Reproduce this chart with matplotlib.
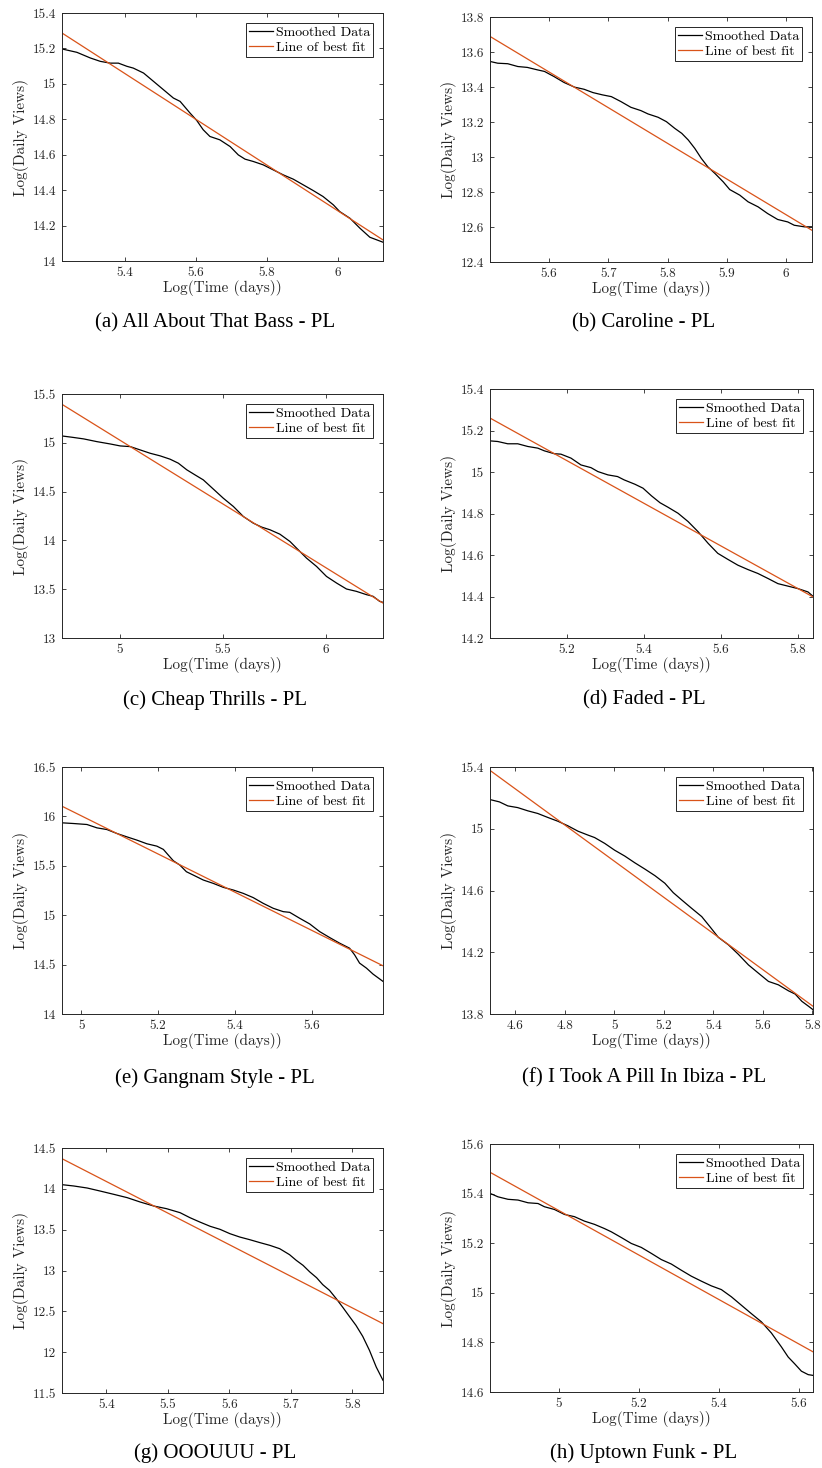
import matplotlib
matplotlib.use("Agg")
import matplotlib.pyplot as plt
from matplotlib.ticker import FuncFormatter

plt.rcParams['font.family'] = ['cmr10', 'DejaVu Serif']
plt.rcParams['axes.formatter.use_mathtext'] = True
plt.rcParams['mathtext.fontset'] = 'cm'

GRAY = '#262626'
ORANGE = '#D95319'

# ---- (a) All About That Bass
x_a = [5.222, 5.264, 5.302, 5.330, 5.358, 5.381, 5.405, 5.423, 5.452, 5.480, 5.508, 5.536,
       5.555, 5.583, 5.602, 5.620, 5.639, 5.667, 5.696, 5.719, 5.738, 5.761, 5.789, 5.817,
       5.846, 5.874, 5.902, 5.930, 5.958, 5.987, 6.005, 6.034, 6.062, 6.090, 6.127]
y_a = [15.197, 15.178, 15.146, 15.127, 15.117, 15.117, 15.099, 15.089, 15.061, 15.014, 14.967, 14.920,
       14.901, 14.835, 14.793, 14.741, 14.703, 14.684, 14.646, 14.599, 14.575, 14.562, 14.543, 14.515,
       14.486, 14.462, 14.430, 14.398, 14.364, 14.317, 14.279, 14.241, 14.185, 14.134, 14.106]
fit_a = [15.287, 14.119]
xt_a = [5.4, 5.6, 5.8, 6]
yt_a = [14, 14.2, 14.4, 14.6, 14.8, 15, 15.2, 15.4]

# ---- (b) Caroline
x_b = [5.500, 5.513, 5.530, 5.547, 5.563, 5.580, 5.592, 5.608, 5.625, 5.643, 5.659, 5.674, 5.690,
       5.705, 5.721, 5.738, 5.755, 5.767, 5.784, 5.798, 5.812, 5.824, 5.835, 5.846, 5.857, 5.868,
       5.880, 5.894, 5.905, 5.922, 5.936, 5.953, 5.969, 5.986, 6.003, 6.014, 6.031, 6.044]
y_b = [13.546, 13.536, 13.533, 13.517, 13.512, 13.498, 13.489, 13.460, 13.426, 13.399, 13.387, 13.368,
       13.355, 13.345, 13.317, 13.284, 13.265, 13.246, 13.227, 13.202, 13.164, 13.135, 13.097, 13.049,
       12.992, 12.944, 12.906, 12.858, 12.814, 12.782, 12.744, 12.715, 12.677, 12.643, 12.629, 12.610,
       12.601, 12.601]
fit_b = [13.689, 12.581]
xt_b = [5.6, 5.7, 5.8, 5.9, 6]
yt_b = [12.4, 12.6, 12.8, 13, 13.2, 13.4, 13.6, 13.8]

# ---- (c) Cheap Thrills
x_c = [4.721, 4.769, 4.826, 4.890, 4.955, 5.003, 5.052, 5.100, 5.148, 5.197, 5.245, 5.285, 5.326,
       5.366, 5.406, 5.455, 5.503, 5.552, 5.600, 5.648, 5.689, 5.729, 5.777, 5.826, 5.866, 5.906,
       5.955, 6.003, 6.052, 6.100, 6.148, 6.197, 6.229, 6.261, 6.277]
y_c = [15.070, 15.057, 15.040, 15.012, 14.988, 14.968, 14.961, 14.927, 14.893, 14.866, 14.832, 14.791,
       14.723, 14.671, 14.620, 14.525, 14.432, 14.347, 14.245, 14.177, 14.136, 14.109, 14.064, 13.989,
       13.904, 13.819, 13.733, 13.631, 13.563, 13.502, 13.478, 13.444, 13.427, 13.375, 13.365]
fit_c = [15.394, 13.358]
xt_c = [5, 5.5, 6]
yt_c = [13, 13.5, 14, 14.5, 15, 15.5]

# ---- (d) Faded
x_d = [5.001, 5.021, 5.047, 5.073, 5.099, 5.125, 5.142, 5.168, 5.185, 5.211, 5.237, 5.263, 5.281,
       5.307, 5.332, 5.349, 5.377, 5.398, 5.420, 5.442, 5.463, 5.489, 5.515, 5.541, 5.567, 5.592,
       5.618, 5.644, 5.670, 5.696, 5.722, 5.748, 5.774, 5.800, 5.826, 5.839]
y_d = [15.150, 15.147, 15.136, 15.136, 15.123, 15.115, 15.102, 15.088, 15.086, 15.067, 15.034, 15.021,
       15.002, 14.986, 14.978, 14.962, 14.941, 14.922, 14.885, 14.852, 14.830, 14.801, 14.761, 14.712,
       14.656, 14.608, 14.579, 14.551, 14.530, 14.511, 14.487, 14.462, 14.450, 14.438, 14.422, 14.401]
fit_d = [15.260, 14.398]
xt_d = [5.2, 5.4, 5.6, 5.8]
yt_d = [14.2, 14.4, 14.6, 14.8, 15, 15.2, 15.4]

# ---- (e) Gangnam Style
x_e = [4.950, 4.980, 5.015, 5.041, 5.067, 5.093, 5.119, 5.145, 5.171, 5.197, 5.214, 5.227, 5.240,
       5.257, 5.274, 5.292, 5.318, 5.344, 5.370, 5.396, 5.422, 5.448, 5.474, 5.500, 5.526, 5.543,
       5.569, 5.595, 5.621, 5.647, 5.673, 5.699, 5.712, 5.725, 5.743, 5.760, 5.786]
y_e = [15.935, 15.928, 15.918, 15.884, 15.867, 15.827, 15.793, 15.760, 15.723, 15.699, 15.666, 15.608,
       15.551, 15.507, 15.440, 15.406, 15.356, 15.322, 15.282, 15.255, 15.221, 15.178, 15.120, 15.070,
       15.036, 15.029, 14.969, 14.912, 14.834, 14.774, 14.717, 14.666, 14.599, 14.515, 14.464, 14.404,
       14.330]
fit_e = [16.103, 14.488]
xt_e = [5, 5.2, 5.4, 5.6]
yt_e = [14, 14.5, 15, 15.5, 16, 16.5]

# ---- (f) I Took A Pill In Ibiza
x_f = [4.497, 4.535, 4.569, 4.609, 4.650, 4.690, 4.731, 4.771, 4.812, 4.853, 4.893, 4.920, 4.961,
       5.001, 5.042, 5.082, 5.123, 5.164, 5.204, 5.238, 5.272, 5.312, 5.353, 5.386, 5.420, 5.461,
       5.501, 5.542, 5.582, 5.623, 5.663, 5.704, 5.731, 5.758, 5.785, 5.803]
y_f = [15.189, 15.174, 15.148, 15.137, 15.116, 15.099, 15.073, 15.049, 15.019, 14.984, 14.959, 14.943,
       14.905, 14.861, 14.823, 14.780, 14.739, 14.696, 14.647, 14.586, 14.539, 14.485, 14.431, 14.366,
       14.297, 14.248, 14.187, 14.118, 14.065, 14.011, 13.989, 13.950, 13.929, 13.882, 13.850, 13.828]
fit_f = [15.378, 13.850]
xt_f = [4.6, 4.8, 5, 5.2, 5.4, 5.6, 5.8]
yt_f = [13.8, 14.2, 14.6, 15, 15.4]

# ---- (g) OOOUUU
x_g = [5.328, 5.347, 5.369, 5.390, 5.412, 5.434, 5.455, 5.477, 5.498, 5.520, 5.536, 5.552, 5.569,
       5.585, 5.601, 5.617, 5.633, 5.650, 5.666, 5.682, 5.698, 5.709, 5.720, 5.731, 5.742, 5.752,
       5.763, 5.774, 5.785, 5.796, 5.806, 5.817, 5.828, 5.839, 5.850]
y_g = [14.051, 14.035, 14.010, 13.973, 13.933, 13.892, 13.839, 13.790, 13.757, 13.708, 13.647, 13.594,
       13.541, 13.504, 13.451, 13.410, 13.378, 13.341, 13.308, 13.267, 13.194, 13.124, 13.063, 12.982,
       12.912, 12.827, 12.757, 12.655, 12.545, 12.431, 12.329, 12.194, 12.022, 11.818, 11.655]
fit_g = [14.369, 12.349]
xt_g = [5.4, 5.5, 5.6, 5.7, 5.8]
yt_g = [11.5, 12, 12.5, 13, 13.5, 14, 14.5]

# ---- (h) Uptown Funk
x_h = [4.828, 4.848, 4.873, 4.898, 4.923, 4.948, 4.964, 4.989, 5.014, 5.039, 5.064, 5.089, 5.114,
       5.131, 5.156, 5.181, 5.206, 5.231, 5.256, 5.281, 5.306, 5.331, 5.356, 5.381, 5.406, 5.431,
       5.456, 5.481, 5.506, 5.531, 5.556, 5.573, 5.589, 5.606, 5.623, 5.635]
y_h = [15.401, 15.387, 15.377, 15.374, 15.363, 15.360, 15.347, 15.336, 15.316, 15.307, 15.289, 15.276,
       15.259, 15.246, 15.223, 15.199, 15.183, 15.159, 15.134, 15.116, 15.091, 15.067, 15.047, 15.028,
       15.013, 14.984, 14.950, 14.916, 14.883, 14.838, 14.782, 14.741, 14.714, 14.684, 14.670, 14.667]
fit_h = [15.486, 14.762]
xt_h = [5, 5.2, 5.4, 5.6]
yt_h = [14.6, 14.8, 15, 15.2, 15.4, 15.6]

captions = ['(a) All About That Bass - PL', '(b) Caroline - PL', '(c) Cheap Thrills - PL',
            '(d) Faded - PL', '(e) Gangnam Style - PL', '(f) I Took A Pill In Ibiza - PL',
            '(g) OOOUUU - PL', '(h) Uptown Funk - PL']

panels = [(x_a, y_a, fit_a, xt_a, yt_a), (x_b, y_b, fit_b, xt_b, yt_b),
          (x_c, y_c, fit_c, xt_c, yt_c), (x_d, y_d, fit_d, xt_d, yt_d),
          (x_e, y_e, fit_e, xt_e, yt_e), (x_f, y_f, fit_f, xt_f, yt_f),
          (x_g, y_g, fit_g, xt_g, yt_g), (x_h, y_h, fit_h, xt_h, yt_h)]

W, H = 822, 1468
fig = plt.figure(figsize=(W / 100, H / 100), dpi=100)

# pixel boxes (left, top, right, bottom)
boxes = [(62, 13, 383, 261), (490, 17, 812, 262),
         (62, 394, 383, 638), (490, 389, 813, 638),
         (62, 767, 383, 1014), (490, 767, 813, 1014),
         (62, 1148, 383, 1393), (490, 1144, 813, 1392)]
cap_y = [323, 323, 700, 700, 1078, 1078, 1453, 1453]
cap_x = [215, 644]

fmt = FuncFormatter(lambda v, p: f'{v:g}')

for i, (x, y, fit, xt, yt) in enumerate(panels):
    l, t, r, b = boxes[i]
    ax = fig.add_axes([l / W, 1 - b / H, (r - l) / W, (b - t) / H])
    ax.plot(x, y, color='black', lw=0.9, label='Smoothed Data')
    ax.plot([x[0], x[-1]], fit, color=ORANGE, lw=0.9, label='Line of best fit')
    ax.set_xlim(x[0], x[-1])
    ax.set_ylim(yt[0], yt[-1])
    ax.set_xticks(xt)
    ax.set_yticks(yt)
    ax.xaxis.set_major_formatter(fmt)
    ax.yaxis.set_major_formatter(fmt)
    ax.tick_params(direction='in', top=True, right=True, length=3, width=0.6,
                   colors=GRAY, labelsize=9.5, pad=4)
    for s in ax.spines.values():
        s.set_color(GRAY)
        s.set_linewidth(0.7)
    ax.set_xlabel('Log(Time (days))', fontsize=11, color=GRAY, labelpad=1)
    ax.set_ylabel('Log(Daily Views)', fontsize=11, color=GRAY, labelpad=3)
    leg = ax.legend(loc='upper right', fontsize=10, fancybox=False, framealpha=1,
                    edgecolor=GRAY, handlelength=1.7, handletextpad=0.2,
                    borderpad=0.25, labelspacing=0.15, borderaxespad=0.7)
    leg.get_frame().set_linewidth(0.7)
    fig.text(cap_x[i % 2] / W, 1 - cap_y[i] / H, captions[i], ha='center', va='center',
             fontsize=15, family='Liberation Serif')

fig.savefig('out.png', dpi=100)
